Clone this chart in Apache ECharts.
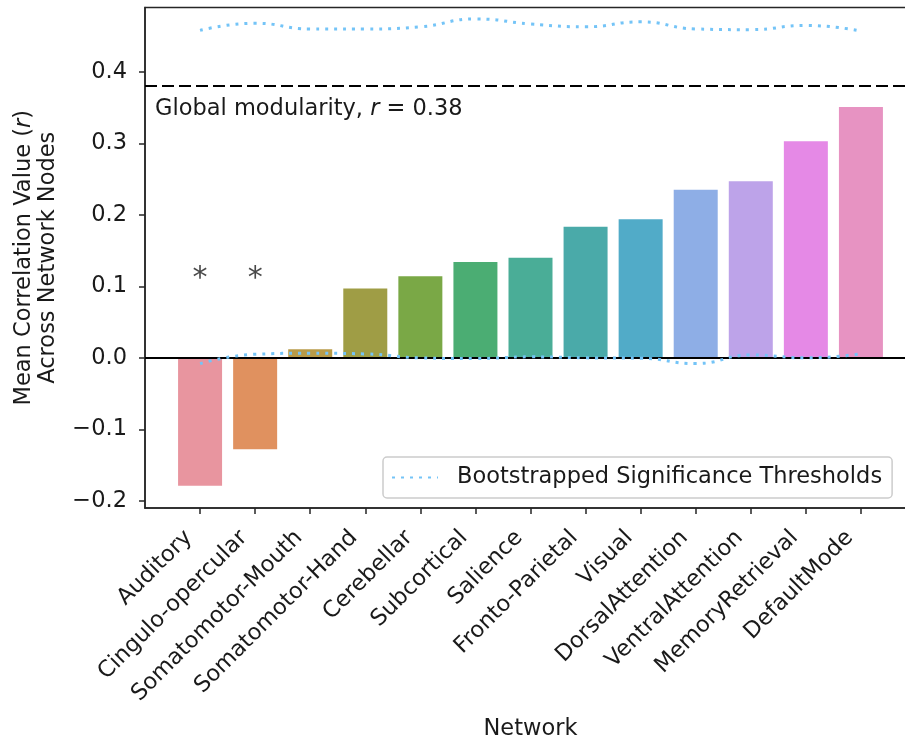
<!DOCTYPE html>
<html>
<head>
<meta charset="utf-8">
<script src="https://cdn.jsdelivr.net/npm/echarts@6/dist/echarts.min.js"></script>
<style>
html,body{margin:0;padding:0;background:#fff;}
#chart{width:905px;height:738px;}
</style>
</head>
<body>
<div id="chart"></div>
<script>
const categories = ['Auditory','Cingulo-opercular','Somatomotor-Mouth','Somatomotor-Hand','Cerebellar','Subcortical','Salience','Fronto-Parietal','Visual','DorsalAttention','VentralAttention','MemoryRetrieval','DefaultMode'];
const meanCorr = [-0.179, -0.128, 0.012, 0.097, 0.114, 0.134, 0.140, 0.1835, 0.194, 0.235, 0.247, 0.303, 0.351];
const upperThreshold = [0.458, 0.468, 0.460, 0.460, 0.463, 0.474, 0.467, 0.463, 0.470, 0.460, 0.459, 0.465, 0.457];
const lowerThreshold = [-0.008, 0.005, 0.0065, 0.0055, 0.0, -0.001, 0.0014, 0.0, -0.0005, -0.008, 0.004, 0.0, 0.0056];
const significant = [0, 1];
const globalModularity = 0.376;
const yTicks = [-0.2, -0.1, 0.0, 0.1, 0.2, 0.3, 0.4];
const barColors = ['#e8959f','#e0915f','#b89b48','#9f9d45','#7aa846','#4bad73','#4aad97','#4aaaa9','#51abc8','#8eaee6','#bda3e9','#e589e6','#e793c2'];

const textColor = '#1a1a1a';
const spine = '#262626';
const threshColor = '#74c4f7';
const FS = 22.5;

const chart = echarts.init(document.getElementById('chart'), null, {renderer:'canvas'});
const xIdx = categories.map((c,i)=>i);

const option = {
  animation: false,
  textStyle: {fontFamily: 'DejaVu Sans', color: textColor},
  grid: {left: 145, top: 7.5, width: 771, height: 500.5, outerBoundsMode: 'none', containLabel: false,
         show: true, borderColor: spine, borderWidth: 1.5, backgroundColor: 'transparent'},
  legend: {
    data: [{name: 'Bootstrapped Significance Thresholds'}],
    left: 383, top: 457,
    padding: [9, 10, 9, 8],
    itemWidth: 46, itemHeight: 14,
    itemStyle: {opacity: 0},
    borderColor: '#cccccc', borderWidth: 1.5, borderRadius: 4,
    backgroundColor: 'rgba(255,255,255,0.8)',
    textStyle: {fontSize: FS, color: textColor, fontFamily: 'DejaVu Sans', padding: [0,0,0,14]}
  },
  xAxis: {
    type: 'value', min: -1, max: 13,
    name: 'Network', nameLocation: 'middle', nameGap: 210, nameMoveOverlap: false,
    nameTextStyle: {fontSize: FS, color: textColor},
    splitLine: {show: false},
    axisLine: {show: true, onZero: false, lineStyle: {color: spine, width: 1.5}},
    axisTick: {show: true, customValues: xIdx, length: 6, lineStyle: {color: spine, width: 1.5}},
    axisLabel: {
      customValues: xIdx, rotate: 45, fontSize: FS, color: textColor, margin: 15,
      padding: [0, 16, 0, 0],
      formatter: v => categories[Math.round(v)] || ''
    }
  },
  yAxis: {
    type: 'value', min: -0.21, max: 0.49,
    name: '{n|Mean Correlation Value (}{i|r}{n|)}\n{n|Across Network Nodes}',
    nameLocation: 'middle', nameRotate: 90, nameGap: 85, nameMoveOverlap: false,
    nameTextStyle: {
      rich: {
        n: {fontSize: FS, color: textColor, fontFamily: 'DejaVu Sans', lineHeight: 24},
        i: {fontSize: FS, color: textColor, fontFamily: 'DejaVu Sans', fontStyle: 'italic', lineHeight: 24}
      }
    },
    splitLine: {show: false},
    axisLine: {show: true, onZero: false, lineStyle: {color: spine, width: 1.5}},
    axisTick: {show: true, customValues: yTicks, length: 6, lineStyle: {color: spine, width: 1.5}},
    axisLabel: {
      customValues: yTicks, fontSize: FS, color: textColor, margin: 18,
      formatter: v => (v < -1e-9 ? '\u2212' + Math.abs(v).toFixed(1) : Math.abs(v).toFixed(1))
    }
  },
  series: [
    {
      type: 'bar', name: 'Mean', barWidth: 44,
      data: meanCorr.map((v,i)=>({value: [i, v], itemStyle: {color: barColors[i]}})),
      markLine: {
        silent: true, symbol: 'none',
        data: [
          {yAxis: 0, lineStyle: {color: '#000', width: 2.2, type: 'solid'}, label: {show: false}},
          {yAxis: globalModularity, lineStyle: {color: '#000', width: 2.2, type: [12, 5]},
           label: {show: true, position: 'insideStartBottom', distance: [10, 12],
             formatter: '{n|Global modularity, }{i|r}{n| = 0.38}',
             rich: {
               n: {fontSize: FS, color: textColor, fontFamily: 'DejaVu Sans'},
               i: {fontSize: FS, color: textColor, fontFamily: 'DejaVu Sans', fontStyle: 'italic'}
             }}}
        ]
      }
    },
    {
      type: 'line', name: 'Bootstrapped Significance Thresholds', smooth: true, symbol: 'none',
      lineStyle: {color: threshColor, width: 3, type: [3, 6]},
      itemStyle: {color: threshColor},
      data: upperThreshold.map((v,i)=>[i, v]), z: 5
    },
    {
      type: 'line', name: 'Bootstrapped Significance Thresholds', smooth: true, symbol: 'none',
      lineStyle: {color: threshColor, width: 3, type: [3, 6]},
      itemStyle: {color: threshColor},
      data: lowerThreshold.map((v,i)=>[i, v]), z: 5
    },
    {
      type: 'scatter', name: 'sig', symbolSize: 1, itemStyle: {color: 'rgba(0,0,0,0)'},
      data: significant.map(i=>[i, 0.119]),
      label: {show: true, position: 'inside', formatter: '*', fontSize: 30, color: textColor, fontFamily: 'DejaVu Sans', offset: [0, 6]}
    }
  ]
};
chart.setOption(option);
</script>
</body>
</html>
